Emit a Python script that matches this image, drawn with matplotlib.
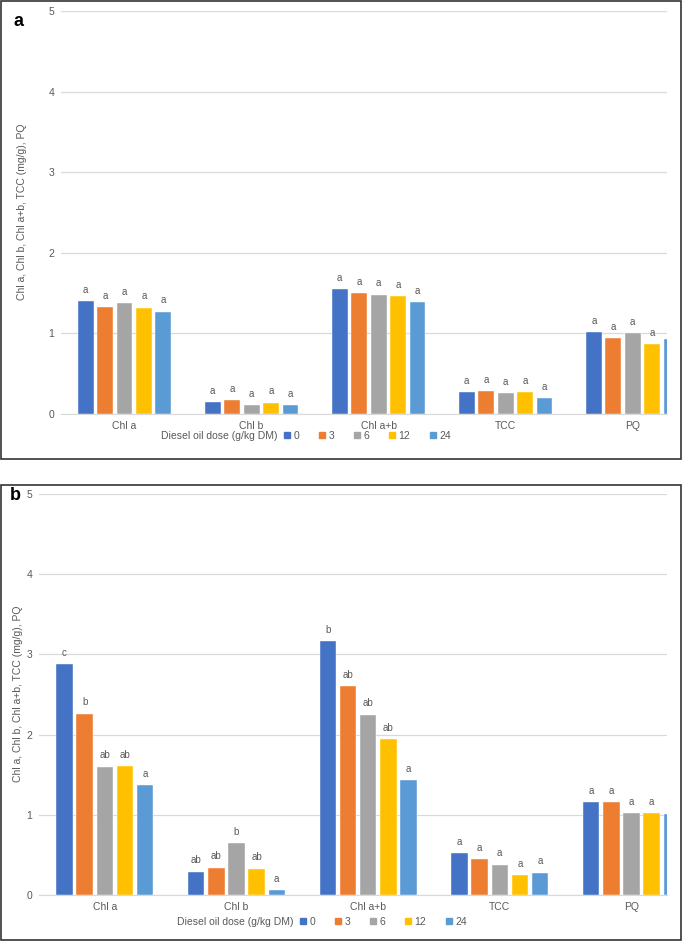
import numpy as np
import matplotlib
matplotlib.use('Agg')
import matplotlib.pyplot as plt
from matplotlib.lines import Line2D
from matplotlib.patches import Rectangle

plt.rcParams['font.family'] = ['Liberation Sans', 'DejaVu Sans']

categories = ['Chl a', 'Chl b', 'Chl a+b', 'TCC', 'PQ']
doses = ['0', '3', '6', '12', '24']
colors = ['#4472C4', '#ED7D31', '#A5A5A5', '#FFC000', '#5B9BD5']

# panel a values, rows = dose, cols = category
vals_a = [
    [1.40, 0.15, 1.55, 0.27, 1.02],
    [1.33, 0.17, 1.50, 0.28, 0.94],
    [1.38, 0.11, 1.48, 0.26, 1.00],
    [1.32, 0.14, 1.46, 0.27, 0.87],
    [1.27, 0.11, 1.39, 0.20, 0.93],
]
letters_a = [
    ['a', 'a', 'a', 'a', 'a'],
    ['a', 'a', 'a', 'a', 'a'],
    ['a', 'a', 'a', 'a', 'a'],
    ['a', 'a', 'a', 'a', 'a'],
    ['a', 'a', 'a', 'a', 'a'],
]

# panel b values
vals_b = [
    [2.88, 0.29, 3.17, 0.52, 1.16],
    [2.26, 0.34, 2.60, 0.45, 1.16],
    [1.60, 0.65, 2.25, 0.38, 1.02],
    [1.61, 0.33, 1.94, 0.25, 1.02],
    [1.37, 0.06, 1.43, 0.28, 1.01],
]
letters_b = [
    ['c', 'ab', 'b', 'a', 'a'],
    ['b', 'ab', 'ab', 'a', 'a'],
    ['ab', 'b', 'ab', 'a', 'a'],
    ['ab', 'ab', 'ab', 'a', 'a'],
    ['a', 'a', 'a', 'a', 'a'],
]

W, H = 685, 941
fig = plt.figure(figsize=(W / 100, H / 100), dpi=100)
txt = '#595959'
ylab = 'Chl a, Chl b, Chl a+b, TCC (mg/g), PQ'


def panel(rect, vals, letters):
    ax = fig.add_axes(rect)
    x = np.arange(len(categories))
    pitch, bw = 0.153, 0.125
    for i, d in enumerate(doses):
        xs = x + (i - 2) * pitch
        ax.bar(xs, vals[i], width=bw, color=colors[i], edgecolor='white', linewidth=0.3, zorder=3)
        for xx, v, l in zip(xs, vals[i], letters[i]):
            ax.annotate(l, (xx, v), xytext=(0, 4.5), textcoords='offset points',
                        ha='center', va='bottom', fontsize=7, color=txt,
                        annotation_clip=True, clip_on=True)
    ax.set_xlim(-0.5, 4.27)
    ax.set_ylim(0, 5)
    ax.set_yticks(range(6))
    ax.set_xticks(x)
    ax.set_xticklabels(categories)
    ax.grid(axis='y', color='#d9d9d9', lw=0.9, zorder=0)
    for s in ['top', 'right', 'left']:
        ax.spines[s].set_visible(False)
    ax.spines['bottom'].set_color('#d9d9d9')
    ax.tick_params(length=0, labelsize=7.5, colors=txt, pad=5)
    return ax


def legend(x0, y0):
    handles = [Line2D([], [], marker='s', ls='', color=c, markersize=4.5) for c in colors]
    fig.legend(handles, doses, loc='center left', bbox_to_anchor=(x0, y0), ncol=5,
               frameon=False, fontsize=7.5, handlelength=0.6, handletextpad=0.3,
               columnspacing=1.9, labelcolor=txt, borderaxespad=0, borderpad=0)
    fig.text(x0 - 0.01, y0, 'Diesel oil dose (g/kg DM)', ha='right', va='center',
             fontsize=7.5, color=txt)


# panel a
ax1 = panel([61 / W, 1 - 414 / H, 606 / W, 403 / H], vals_a, letters_a)
fig.text(22 / W, 1 - 212 / H, ylab, rotation=90, ha='center', va='center', fontsize=7.5, color=txt)
legend(284 / W, 1 - 436 / H)
fig.text(18 / W, 1 - 22 / H, 'a', ha='center', va='center', fontsize=13, fontweight='bold')
fig.patches.append(Rectangle((1 / W, 1 - 459 / H), 680 / W, 458 / H, transform=fig.transFigure,
                             fill=False, ec='#333333', lw=1.2))

# panel b
ax2 = panel([39 / W, 1 - 895 / H, 628 / W, 401 / H], vals_b, letters_b)
fig.text(18 / W, 1 - 694 / H, ylab, rotation=90, ha='center', va='center', fontsize=7.5, color=txt)
legend(300 / W, 1 - 922 / H)
fig.text(15 / W, 1 - 495 / H, 'b', ha='center', va='center', fontsize=13, fontweight='bold')
fig.patches.append(Rectangle((1 / W, 1 / H), 680 / W, 455 / H, transform=fig.transFigure,
                             fill=False, ec='#333333', lw=1.2))

fig.savefig('out.png', dpi=100)
